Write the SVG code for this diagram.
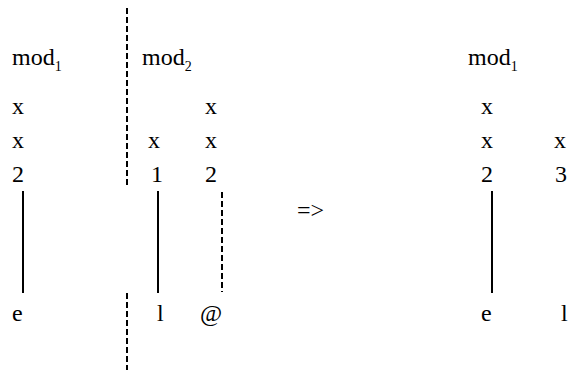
<svg xmlns="http://www.w3.org/2000/svg" width="570" height="370" viewBox="0 0 570 370">
<style>
.t{font-family:"Liberation Serif","DejaVu Serif",serif;font-size:24px;fill:#000}
.sub{font-size:14px}
.solid{stroke:#000;stroke-width:2;fill:none}
.dash{stroke:#000;stroke-width:2;fill:none;stroke-dasharray:6,3}
</style>
<rect width="570" height="370" fill="#fff"/>
<g id="connectors">
<line class="dash" x1="127" y1="8" x2="127" y2="187"/>
<line class="dash" x1="127" y1="293" x2="127" y2="370"/>
<line class="solid" x1="23" y1="191" x2="23" y2="293"/>
<line class="solid" x1="158" y1="191" x2="158" y2="293"/>
<line class="dash" x1="222" y1="192" x2="222" y2="292"/>
<line class="solid" x1="492" y1="191" x2="492" y2="293"/>
</g>
<g id="left-mod1">
<text class="t" x="12" y="65">mod<tspan class="sub" dy="6">1</tspan></text>
<text class="t" x="12" y="114">x</text>
<text class="t" x="12" y="148">x</text>
<text class="t" x="12" y="182">2</text>
<text class="t" x="12" y="321">e</text>
</g>
<g id="left-mod2">
<text class="t" x="142" y="65">mod<tspan class="sub" dy="6">2</tspan></text>
<text class="t" x="148" y="148">x</text>
<text class="t" x="151" y="182">1</text>
<text class="t" x="157" y="321">l</text>
<text class="t" x="205" y="114">x</text>
<text class="t" x="205" y="148">x</text>
<text class="t" x="205" y="182">2</text>
<text class="t" x="200" y="321">@</text>
</g>
<g id="arrow">
<text class="t" x="297" y="218">=&gt;</text>
</g>
<g id="right-mod1">
<text class="t" x="468" y="65">mod<tspan class="sub" dy="6">1</tspan></text>
<text class="t" x="481" y="114">x</text>
<text class="t" x="481" y="148">x</text>
<text class="t" x="481" y="182">2</text>
<text class="t" x="481" y="321">e</text>
<text class="t" x="554" y="148">x</text>
<text class="t" x="555" y="182">3</text>
<text class="t" x="561" y="321">l</text>
</g>
</svg>
